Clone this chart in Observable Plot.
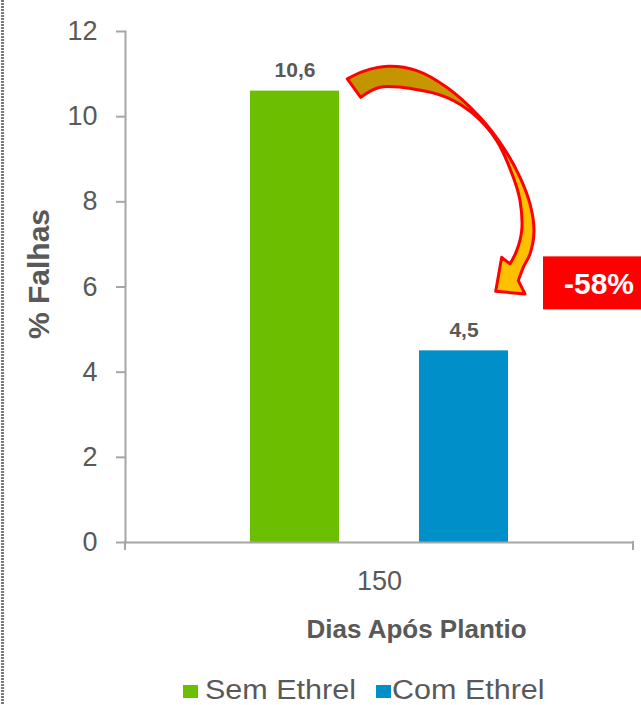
<!DOCTYPE html>
<html><head><meta charset="utf-8">
<script src="https://cdn.jsdelivr.net/npm/d3@7"></script>
<script src="https://cdn.jsdelivr.net/npm/@observablehq/plot@0.6"></script>
<style>
body{margin:0;background:#fff;}
#wrap{position:relative;width:641px;height:705px;overflow:hidden;font-family:Arial,"Liberation Sans",sans-serif;}
#border{position:absolute;left:1px;top:0;width:3px;height:705px;background:repeating-linear-gradient(to bottom,#7a7a7a 0 2px,transparent 2px 3px);}
#chart{position:absolute;left:0;top:0;}
.sw{position:absolute;top:685px;width:15px;height:13px;}
.lt{position:absolute;top:675px;font-size:27px;line-height:30px;color:#595959;white-space:nowrap;transform:scaleX(1.13);transform-origin:0 50%;}
</style></head><body><div id="wrap"><div id="border"></div><div id="chart"></div><div id="legend"></div></div>
<script>
const categories = ["150"];
const series = ["Sem Ethrel", "Com Ethrel"];
const values = [10.6, 4.5];
const colors = ["#6bbf00", "#008fc8"];
const yTicks = [0, 2, 4, 6, 8, 10, 12];
const reduction = "-58%";
const yLabel = "% Falhas";
const xLabel = "Dias Após Plantio";

const data = series.map((s, i) => ({serie: s, value: values[i], dap: categories[0]}));
const fmt = v => v.toFixed(1).replace(".", ",");
const gray = "#a6a6a6", textGray = "#595959";

const plot = Plot.plot({
  width: 641, height: 660,
  marginLeft: 125, marginRight: 8, marginTop: 31, marginBottom: 118,
  style: {fontFamily: 'Arial, "Liberation Sans", sans-serif', fontSize: "27px", color: textGray, background: "transparent", overflow: "visible"},
  x: {domain: series, paddingInner: 0.473, paddingOuter: 0.739, axis: null},
  y: {domain: [0, 12], axis: null, label: null},
  color: {domain: series, range: colors},
  marks: [
    Plot.barY(data, {x: "serie", y: "value", fill: "serie"}),
    Plot.ruleY([0], {stroke: gray, strokeWidth: 2}),
    Plot.frame({anchor: "left", stroke: gray, strokeWidth: 2}),
    Plot.axisY(yTicks, {tickSize: 9, tickPadding: 19, stroke: gray, strokeWidth: 2, fill: textGray, fontSize: 27, label: null}),
    Plot.text(data, {x: "serie", y: "value", text: d => fmt(d.value), lineAnchor: "bottom", dy: -14, fontWeight: "bold", fontSize: 21, fill: textGray}),
    Plot.text(categories, {frameAnchor: "bottom", text: d => d, lineAnchor: "top", dy: 28, fontSize: 27, fill: textGray}),
    Plot.text([xLabel], {frameAnchor: "bottom", text: d => d, dx: 37, dy: 95, lineAnchor: "bottom", fontWeight: "bold", fontSize: 26, fill: textGray}),
    Plot.text([yLabel], {frameAnchor: "left", text: d => d, rotate: -90, textAnchor: "middle", lineAnchor: "middle", dx: -86, dy: -13, fontWeight: "bold", fontSize: 30, fill: textGray})
  ]
});
document.getElementById("chart").appendChild(plot);

// post-processing annotations derived from scales
const svg = d3.select(plot);
const xs = plot.scale("x"), ys = plot.scale("y");
const bw = xs.bandwidth;
const y0 = ys.apply(0);
svg.append("g").selectAll("line").data(xs.range).join("line")
  .attr("x1", d => d).attr("x2", d => d).attr("y1", y0 - 1).attr("y2", y0 + 8)
  .attr("stroke", gray).attr("stroke-width", 2);

// curved arrow from green bar toward blue bar
const ox = xs.apply(series[0]) + bw, oy = ys.apply(values[0]);
const outer = [[8.3,-11.7],[24.3,-19.3],[49.3,-24.3],[77.7,-20],[107.7,-3.3],[141,26.7],[164.3,56.7],[181,86.7],[191,113.3],[195,140],[191,163.3],[184.3,176.7],[179.3,190]];
const head = [[186,203.3],[156.7,200.7],[162.7,166.7]];
const inner = [[171,173.3],[177.7,160],[182.7,140],[181,110],[174.3,86.7],[157.7,50],[134.3,23.3],[107.7,6.7],[74.3,-1.7],[41,-3.3],[21.7,6.7]];
const tr = p => [ox + p[0], oy + p[1]];
const curve = d3.line().curve(d3.curveCatmullRom.alpha(0.5));
let dPath = curve(outer.map(tr));
dPath += head.map(tr).map(p => "L" + p[0] + "," + p[1]).join("");
dPath += curve(inner.map(tr)).replace(/^M/, "L") + "Z";
const defs = svg.append("defs");
const [gx1, gy1] = tr([50, -24]), [gx2, gy2] = tr([185, 200]);
const grad = defs.append("linearGradient").attr("id", "arrGrad").attr("gradientUnits", "userSpaceOnUse")
  .attr("x1", gx1).attr("y1", gy1).attr("x2", gx2).attr("y2", gy2);
grad.append("stop").attr("offset", 0).attr("stop-color", "#c49400");
grad.append("stop").attr("offset", 0.35).attr("stop-color", "#cc9a00");
grad.append("stop").attr("offset", 0.6).attr("stop-color", "#ffc000");
grad.append("stop").attr("offset", 1).attr("stop-color", "#ffc000");
svg.append("path").attr("d", dPath).attr("fill", "url(#arrGrad)")
  .attr("stroke", "#ff0000").attr("stroke-width", 3).attr("stroke-linejoin", "round");

// reduction box
const bx = xs.apply(series[1]) + bw, by = ys.apply(values[1]);
svg.append("rect").attr("x", bx + 35).attr("y", by - 94).attr("width", 641 - bx - 35).attr("height", 53).attr("fill", "#ff0000");
svg.append("text").attr("x", bx + 91).attr("y", by - 56).attr("text-anchor", "middle")
  .attr("fill", "#ffffff").attr("font-weight", "bold").attr("font-size", 30).text(reduction);

// legend
const legend = d3.select("#legend");
const swLeft = [183, 376], txtLeft = [205, 392];
series.forEach((s, i) => {
  legend.append("div").attr("class", "sw").style("left", swLeft[i] + "px").style("background", colors[i]);
  legend.append("div").attr("class", "lt").style("left", txtLeft[i] + "px").text(s);
});
</script></body></html>
